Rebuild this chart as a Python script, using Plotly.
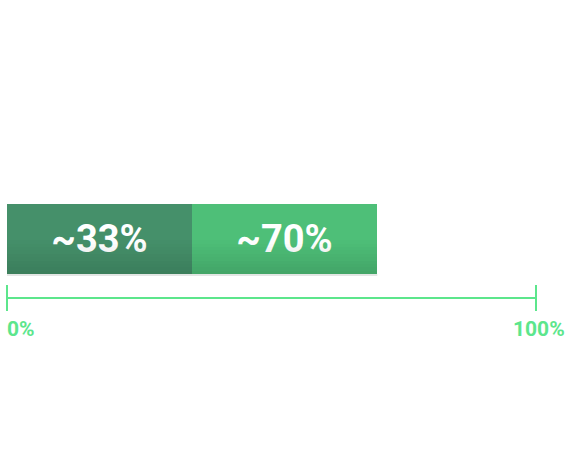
import plotly.graph_objects as go

# Dados
rotulos = ['~33%', '~70%']
fim_segmento = [35, 70]          # onde cada segmento termina (% da escala)
cores = ['#45906a', '#4ebf78']
marcas_eixo = [0, 100]
texto_eixo = ['0%', '100%']

W, H = 567, 462
# pixels horizontais de 0% e 100%
X0, X100 = 7, 536
esc = (X100 - X0) / 100.0
# mapeamento de pixels -> unidades do eixo y (barra centrada em y=0, altura 1 = 70px)
PX = 70.0
centro = 239
def py(p):
    return -(p - centro) / PX

inicio = [0] + fim_segmento[:-1]
larguras = [f - i for f, i in zip(fim_segmento, inicio)]

fig = go.Figure()

for rot, base, larg, cor in zip(rotulos, inicio, larguras, cores):
    fig.add_trace(go.Bar(
        y=[0], x=[larg], base=[base], orientation='h', width=1,
        marker=dict(color=cor, line=dict(width=0)),
        text=[rot], textposition='inside', insidetextanchor='middle',
        textfont=dict(family='Roboto', size=38, color='white', weight='bold'),
        hoverinfo='skip', showlegend=False,
    ))

# degradê na metade de baixo da barra
n = 10
for k in range(n):
    alfa = 0.16 * (k + 0.5) / n
    topo = -0.02 - 0.48 * k / n
    fig.add_trace(go.Bar(
        y=[topo - 0.24 / n], x=[fim_segmento[-1]], base=[0], orientation='h',
        width=0.48 / n, marker=dict(color=f'rgba(10,30,20,{alfa:.3f})', line=dict(width=0)),
        hoverinfo='skip', showlegend=False,
    ))

# sombra leve sob a barra
fig.add_shape(type='rect', xref='x', yref='y', x0=0, x1=fim_segmento[-1],
              y0=py(276), y1=py(274), fillcolor='#e3e6e4', line_width=0, layer='below')

# eixo
cor_eixo = '#5ce68c'
fig.add_shape(type='line', xref='x', yref='y', x0=marcas_eixo[0], x1=marcas_eixo[-1],
              y0=py(298), y1=py(298), line=dict(color=cor_eixo, width=2))
for m, t, anc in zip(marcas_eixo, texto_eixo, ['left', 'right']):
    fig.add_shape(type='line', xref='x', yref='y', x0=m, x1=m,
                  y0=py(285), y1=py(311), line=dict(color=cor_eixo, width=2))
    fig.add_annotation(x=m, y=py(329), xref='x', yref='y', text=t, showarrow=False,
                       xanchor=anc, xshift=-2 if anc == 'left' else 31,
                       font=dict(family='Roboto', size=21, color=cor_eixo, weight='bold'))

fig.update_layout(
    width=W, height=H,
    margin=dict(l=0, r=0, t=0, b=0),
    barmode='overlay', bargap=0,
    paper_bgcolor='white', plot_bgcolor='white',
    xaxis=dict(range=[-X0 / esc, 100 + (W - X100) / esc], visible=False, fixedrange=True),
    yaxis=dict(range=[py(H), py(0)], visible=False, fixedrange=True),
)

# tira a margem padrão da página para o gráfico começar no canto
fig.write_html('out.html', config={'displayModeBar': False},
               post_script="document.body.style.margin='0';")
